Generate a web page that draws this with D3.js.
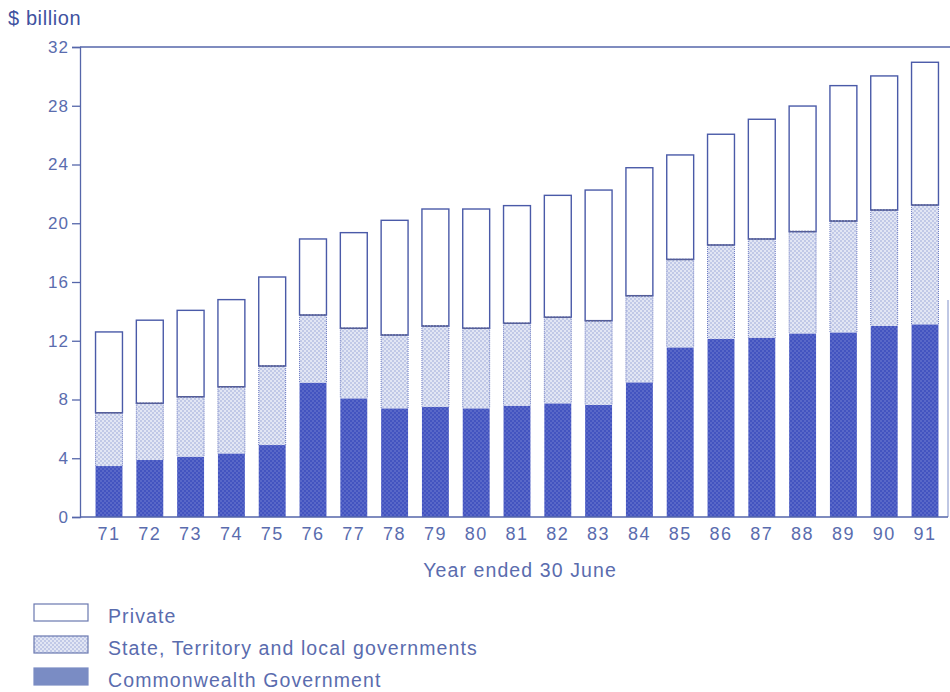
<!DOCTYPE html>
<html><head><meta charset="utf-8">
<script src="https://cdn.jsdelivr.net/npm/d3@7"></script>
<style>body{margin:0;background:#fff;}svg{display:block;font-family:"Liberation Sans",Arial,sans-serif;}</style>
</head><body><div id="chart"></div>
<script>
const years = ["71","72","73","74","75","76","77","78","79","80","81","82","83","84","85","86","87","88","89","90","91"];
const commonwealth = [3.47,3.88,4.11,4.33,4.90,9.15,8.08,7.40,7.51,7.40,7.58,7.74,7.63,9.17,11.55,12.12,12.21,12.50,12.57,13.02,13.12];
const stateLocal   = [3.63,3.86,4.08,4.54,5.38,4.60,4.77,4.99,5.49,5.45,5.61,5.86,5.74,5.90,5.99,6.40,6.72,6.93,7.58,7.88,8.12];
const privateSect  = [5.50,5.66,5.88,5.93,6.06,5.18,6.51,7.81,7.97,8.12,8.01,8.30,8.89,8.71,7.11,7.54,8.15,8.55,9.22,9.13,9.72];
const yTicks = [0,4,8,12,16,20,24,28,32];
const seriesKeys = ["commonwealth","stateLocal","privateSect"];
const seriesLabels = {privateSect:"Private", stateLocal:"State, Territory and local governments", commonwealth:"Commonwealth Government"};

const W=950,H=692;
const textCol="#5a6cae", axisCol="#5566aa";
const svg=d3.select("#chart").append("svg").attr("width",W).attr("height",H);
const defs=svg.append("defs");
const pc=defs.append("pattern").attr("id","pComm").attr("width",4).attr("height",4).attr("patternUnits","userSpaceOnUse");
pc.append("rect").attr("width",4).attr("height",4).attr("fill","#4354c0");
pc.append("circle").attr("cx",1).attr("cy",1).attr("r",0.7).attr("fill","#7f8cd6");
pc.append("circle").attr("cx",3).attr("cy",3).attr("r",0.7).attr("fill","#7f8cd6");
const ps=defs.append("pattern").attr("id","pState").attr("width",4).attr("height",4).attr("patternUnits","userSpaceOnUse");
ps.append("rect").attr("width",4).attr("height",4).attr("fill","#e2e6f4");
ps.append("circle").attr("cx",1).attr("cy",1).attr("r",0.8).attr("fill","#98a4d8");
ps.append("circle").attr("cx",3).attr("cy",3).attr("r",0.8).attr("fill","#98a4d8");

const data=years.map((y,i)=>({year:y,commonwealth:commonwealth[i],stateLocal:stateLocal[i],privateSect:privateSect[i]}));
const stack=d3.stack().keys(seriesKeys)(data);

const x=d3.scaleBand().domain(years).range([88.6,945.4]).paddingInner(0.34).paddingOuter(0.17);
const y=d3.scaleLinear().domain([0,32]).range([517,47]);

const fills={commonwealth:"url(#pComm)",stateLocal:"url(#pState)",privateSect:"#fff"};
const g=svg.append("g");
stack.forEach(s=>{
  g.selectAll(null).data(s).enter().append("rect")
    .attr("x",d=>x(d.data.year)).attr("width",x.bandwidth())
    .attr("y",d=>y(d[1])).attr("height",d=>y(d[0])-y(d[1]))
    .attr("fill",fills[s.key])
    .attr("stroke",s.key==="privateSect"?"#4a5aa8":"none").attr("stroke-width",1.4);
});
g.selectAll(null).data(stack[1]).enter().append("line")
  .attr("x1",d=>x(d.data.year)).attr("x2",d=>x(d.data.year)+x.bandwidth())
  .attr("y1",d=>y(d[1])).attr("y2",d=>y(d[1]))
  .attr("stroke","#5a6090").attr("stroke-width",1.5).attr("stroke-dasharray","2,1");
stack[1].forEach(d=>{
  [x(d.data.year), x(d.data.year)+x.bandwidth()].forEach(xx=>{
    g.append("line").attr("x1",xx).attr("x2",xx).attr("y1",y(d[1])).attr("y2",y(d[0]))
     .attr("stroke","#6a78c0").attr("stroke-width",1).attr("stroke-dasharray","1,1");
  });
});

svg.append("line").attr("x1",80).attr("x2",950).attr("y1",y(32)).attr("y2",y(32)).attr("stroke",axisCol).attr("stroke-width",1.3);
svg.append("line").attr("x1",948).attr("x2",948).attr("y1",300).attr("y2",517).attr("stroke","#8090c8").attr("stroke-width",1);

const ya=svg.append("g").attr("transform","translate(80,0)").call(d3.axisLeft(y).tickValues(yTicks).tickSize(8).tickPadding(3));
ya.selectAll("path,line").attr("stroke",axisCol).attr("stroke-width",1.3);
ya.selectAll("text").attr("fill",textCol).attr("font-size",17).attr("letter-spacing",1).attr("font-family","Liberation Sans, Arial, sans-serif");
const xa=svg.append("g").attr("transform","translate(0,517)").call(d3.axisBottom(x).tickSize(0).tickPadding(10));
xa.select("path").attr("d","M80,0H948").attr("stroke",axisCol).attr("stroke-width",1.3);
xa.selectAll("text").attr("fill",textCol).attr("font-size",18).attr("letter-spacing",1.5).attr("font-family","Liberation Sans, Arial, sans-serif");

svg.append("text").attr("x",8).attr("y",25).attr("fill","#3f52a0").attr("font-size",20).attr("letter-spacing",0.6).text("$ billion");
svg.append("text").attr("x",520).attr("y",577).attr("text-anchor","middle").attr("fill",textCol).attr("font-size",19.5).attr("letter-spacing",1.1).text("Year ended 30 June");

const legKeys=["privateSect","stateLocal","commonwealth"];
const legFill={privateSect:"#fff",stateLocal:"url(#pState)",commonwealth:"#7a8cc4"};
const lg=svg.append("g");
legKeys.forEach((k,i)=>{
  const yy=604+i*32;
  lg.append("rect").attr("x",34).attr("y",yy).attr("width",54).attr("height",17)
    .attr("fill",legFill[k]).attr("stroke",k==="commonwealth"?"#7a8cc4":"#6a78b0").attr("stroke-width",1.2);
  lg.append("text").attr("x",108).attr("y",yy+19).attr("fill",textCol).attr("font-size",19.5).attr("letter-spacing",1.1).text(seriesLabels[k]);
});
</script></body></html>
